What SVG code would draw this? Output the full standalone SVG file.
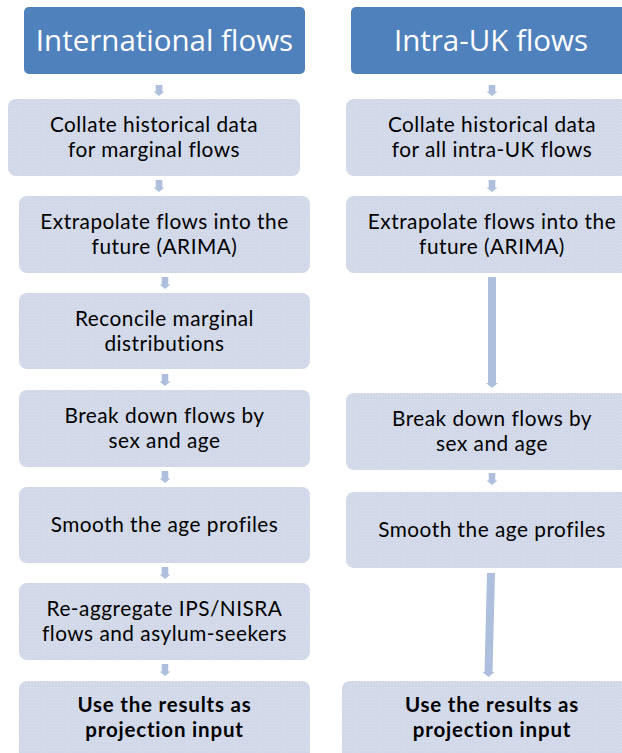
<svg xmlns="http://www.w3.org/2000/svg" width="622" height="753" viewBox="0 0 622 753">
<defs>
<pattern id="tex" x="0" y="0" width="3" height="3" patternUnits="userSpaceOnUse">
<rect width="3" height="3" fill="#ced6e7"/>
<rect x="0" y="0" width="1" height="1" fill="#dfe4ef"/>
<rect x="1.5" y="1.5" width="1" height="1" fill="#dfe4ef"/>
</pattern>
</defs>
<style>
.hdr{fill:#4f81bd}
.box{fill:url(#tex)}
.ht{font-family:"Open Sans","Noto Sans",sans-serif;font-size:29.5px;fill:#ffffff;text-anchor:middle}
.t{font-family:Lato,"Liberation Sans",sans-serif;font-size:20.8px;letter-spacing:0.5px;fill:#000000;text-anchor:middle}
.tb{font-family:Lato,"Liberation Sans",sans-serif;font-size:20.5px;letter-spacing:0.8px;font-weight:bold;fill:#000000;text-anchor:middle}
.arr{fill:#adbfdc}
</style>
<rect width="622" height="753" fill="#ffffff"/>

<g id="connectors">
<polygon class="arr" points="155.7,85 162.3,85 162.3,91.5 164.5,91.5 159,96 153.5,91.5 155.7,91.5"/>
<polygon class="arr" points="155.7,180 162.3,180 162.3,187.5 164.5,187.5 159,192 153.5,187.5 155.7,187.5"/>
<polygon class="arr" points="161.7,277 168.3,277 168.3,284.5 170.5,284.5 165,289 159.5,284.5 161.7,284.5"/>
<polygon class="arr" points="161.7,374 168.3,374 168.3,381.5 170.5,381.5 165,386 159.5,381.5 161.7,381.5"/>
<polygon class="arr" points="161.7,471 168.3,471 168.3,478.5 170.5,478.5 165,483 159.5,478.5 161.7,478.5"/>
<polygon class="arr" points="161.7,567 168.3,567 168.3,574.5 170.5,574.5 165,579 159.5,574.5 161.7,574.5"/>
<polygon class="arr" points="161.7,664 168.3,664 168.3,671.5 170.5,671.5 165,676 159.5,671.5 161.7,671.5"/>
<polygon class="arr" points="488.7,85 495.3,85 495.3,91.5 497.5,91.5 492,96 486.5,91.5 488.7,91.5"/>
<polygon class="arr" points="488.7,180 495.3,180 495.3,187.5 497.5,187.5 492,192 486.5,187.5 488.7,187.5"/>
<polygon class="arr" points="488,277 496,277 496,383 498,383 492,388 486,383 488,383"/>
<polygon class="arr" points="488.7,473 495.3,473 495.3,480.5 497.5,480.5 492,485 486.5,480.5 488.7,480.5"/>
<polygon class="arr" points="487,573 495,573 492.5,672 494.5,672 488.5,677 482.5,672 484.5,672"/>
</g>

<g id="hdr-intl">
<rect class="hdr" x="24" y="7" width="281" height="67" rx="5"/>
<text class="ht" x="164.5" y="51">International flows</text>
</g>
<g id="hdr-uk">
<rect class="hdr" x="351" y="7" width="280" height="67" rx="5"/>
<text class="ht" x="491" y="51">Intra-UK flows</text>
</g>

<g id="l-collate">
<rect class="box" x="8" y="99" width="292" height="77" rx="8"/>
<text class="t" x="154" y="132">Collate historical data</text>
<text class="t" x="154" y="157">for marginal flows</text>
</g>
<g id="l-extrapolate">
<rect class="box" x="19" y="196" width="291" height="77" rx="8"/>
<text class="t" x="164.5" y="229">Extrapolate flows into the</text>
<text class="t" x="164.5" y="254">future (ARIMA)</text>
</g>
<g id="l-reconcile">
<rect class="box" x="19" y="293" width="291" height="76" rx="8"/>
<text class="t" x="164.5" y="325.5">Reconcile marginal</text>
<text class="t" x="164.5" y="350.5">distributions</text>
</g>
<g id="l-breakdown">
<rect class="box" x="19" y="390" width="291" height="77" rx="8"/>
<text class="t" x="164.5" y="423">Break down flows by</text>
<text class="t" x="164.5" y="448">sex and age</text>
</g>
<g id="l-smooth">
<rect class="box" x="19" y="487" width="291" height="76" rx="8"/>
<text class="t" x="164.5" y="532">Smooth the age profiles</text>
</g>
<g id="l-reaggregate">
<rect class="box" x="19" y="583" width="291" height="77" rx="8"/>
<text class="t" x="164.5" y="616">Re-aggregate IPS/NISRA</text>
<text class="t" x="164.5" y="641">flows and asylum-seekers</text>
</g>
<g id="l-use">
<rect class="box" x="19" y="681" width="291" height="82" rx="8"/>
<text class="tb" x="164.5" y="712">Use the results as</text>
<text class="tb" x="164.5" y="737">projection input</text>
</g>

<g id="r-collate">
<rect class="box" x="346" y="99" width="292" height="77" rx="8"/>
<text class="t" x="492" y="132">Collate historical data</text>
<text class="t" x="492" y="157">for all intra-UK flows</text>
</g>
<g id="r-extrapolate">
<rect class="box" x="346" y="196" width="292" height="77" rx="8"/>
<text class="t" x="492" y="229">Extrapolate flows into the</text>
<text class="t" x="492" y="254">future (ARIMA)</text>
</g>
<g id="r-breakdown">
<rect class="box" x="346" y="393" width="292" height="77" rx="8"/>
<text class="t" x="492" y="426">Break down flows by</text>
<text class="t" x="492" y="451">sex and age</text>
</g>
<g id="r-smooth">
<rect class="box" x="346" y="492" width="292" height="76" rx="8"/>
<text class="t" x="492" y="537">Smooth the age profiles</text>
</g>
<g id="r-use">
<rect class="box" x="342" y="681" width="300" height="82" rx="8"/>
<text class="tb" x="492" y="712">Use the results as</text>
<text class="tb" x="492" y="737">projection input</text>
</g>
</svg>
